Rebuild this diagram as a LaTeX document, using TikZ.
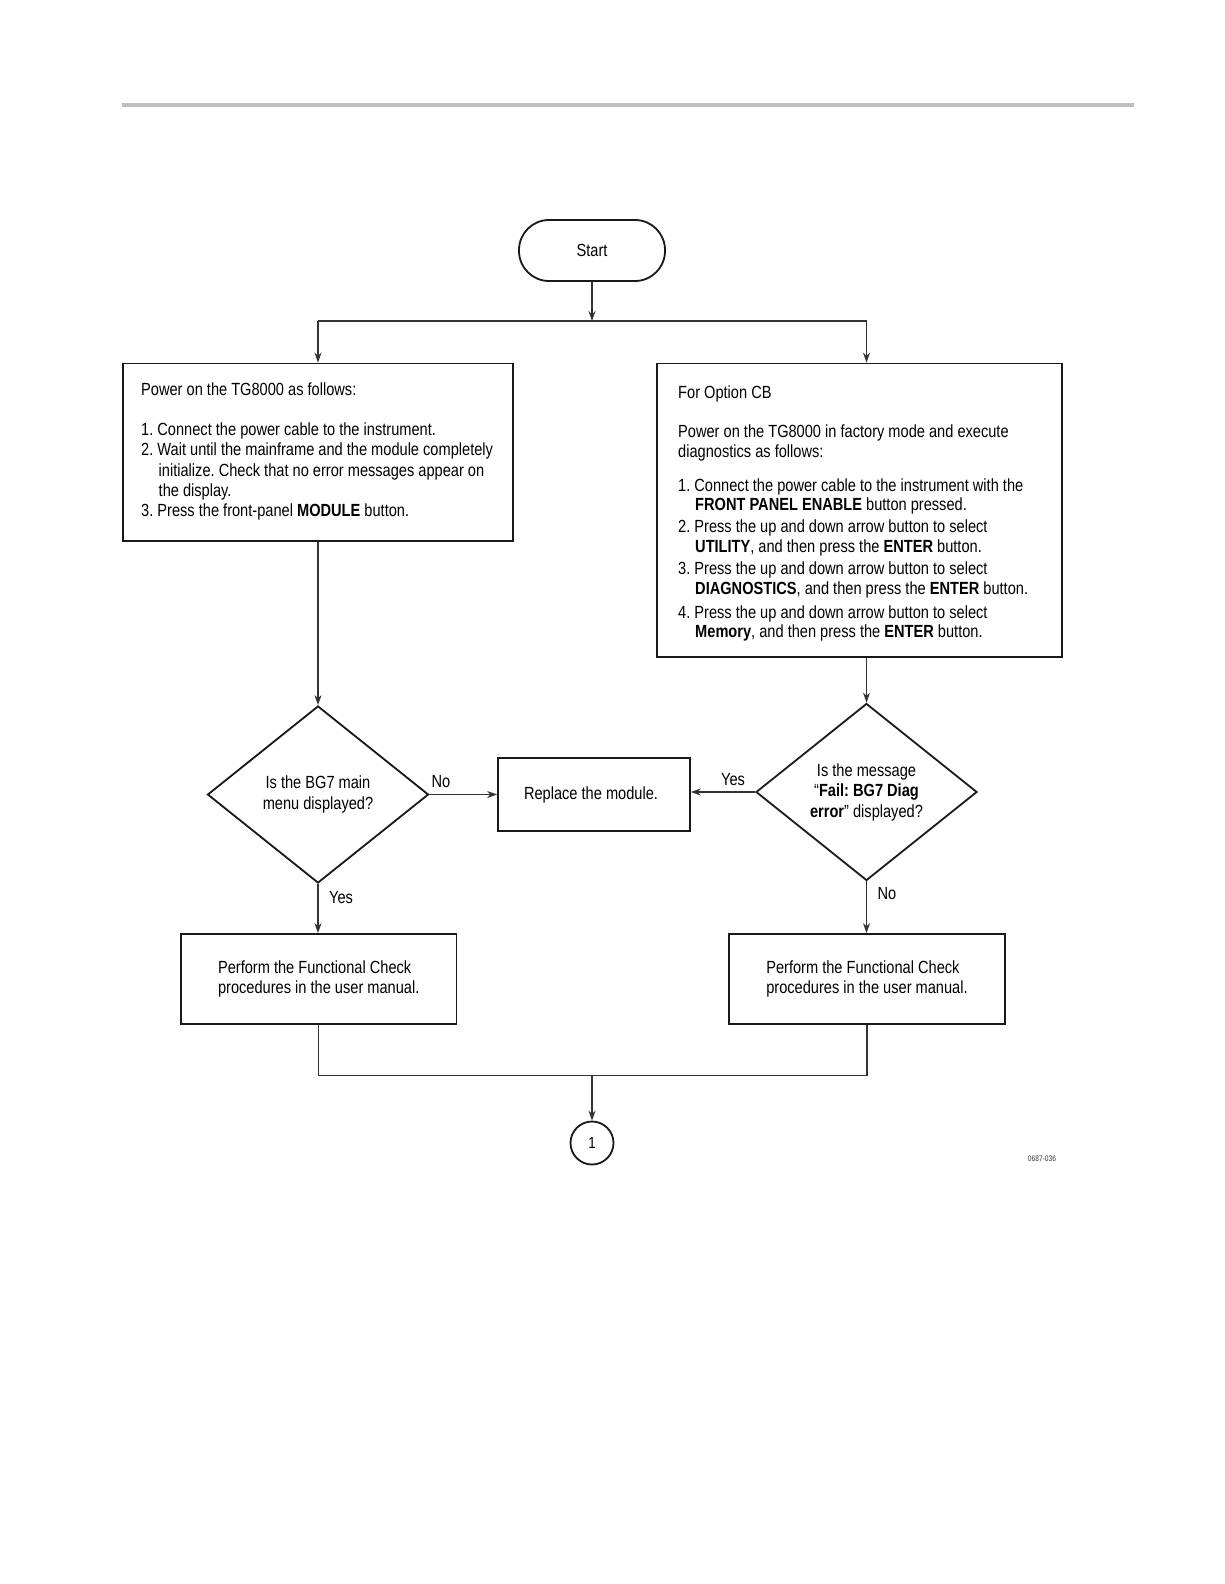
\documentclass[tikz,border=0pt]{standalone}
\usepackage{fontspec}
\setmainfont{Liberation Sans}[FakeStretch=0.83]
\usetikzlibrary{arrows.meta,shapes.geometric}
\frenchspacing
\begin{document}
\frenchspacing
\begin{tikzpicture}[x=1pt,y=-1pt,
  box/.style={draw=black!90,line width=1.8pt,rectangle,inner sep=0pt},
  dia/.style={draw=black!90,line width=1.8pt,diamond,inner sep=0pt,minimum width=221pt,minimum height=177pt,align=center,font=\fontsize{17.6}{20.5}\selectfont},
  conn/.style={draw=black!80,line width=1.3pt},
  arr/.style={conn,-{Stealth[length=10pt,width=7pt]}},
  txt/.style={inner sep=0pt,align=left,font=\fontsize{17.6}{20.2}\selectfont},
  lbl/.style={inner sep=0pt,font=\fontsize{17.6}{20.2}\selectfont}]
\useasboundingbox (0,0) rectangle (1224,1584);
\fill[white] (0,0) rectangle (1224,1584);
\draw[line width=4pt,black!25] (122,105) -- (1134,105);

\node[box,rounded corners=30pt,minimum width=146pt,minimum height=61pt,font=\fontsize{17.6}{20.2}\selectfont] (start) at (592,250.5) {Start};

\node[box,minimum width=390pt,minimum height=177.5pt] (b1) at (318,452.25) {};
\node[txt,anchor=north west] (t1) at (141,382.5) {Power on the TG8000 as follows:\\[20pt]
1. Connect the power cable to the instrument.\\
2. Wait until the mainframe and the module completely\\
\hspace*{17.5pt}initialize. Check that no error messages appear on\\
\hspace*{17.5pt}the display.\\
3. Press the front-panel \textbf{MODULE} button.};

\node[box,minimum width=405pt,minimum height=293.5pt] (b2) at (859.5,510.25) {};
\node[txt,anchor=north west,font=\fontsize{17.6}{19.7}\selectfont] (t2) at (678,386) {For Option CB\\[19pt]
Power on the TG8000 in factory mode and execute\\
diagnostics as follows:\\[14pt]
1. Connect the power cable to the instrument with the\\
\hspace*{17pt}\textbf{FRONT PANEL ENABLE} button pressed.\\[2.5pt]
2. Press the up and down arrow button to select\\
\hspace*{17pt}\textbf{UTILITY}, and then press the \textbf{ENTER} button.\\[2.5pt]
3. Press the up and down arrow button to select\\
\hspace*{17pt}\textbf{DIAGNOSTICS}, and then press the \textbf{ENTER} button.\\[4pt]
4. Press the up and down arrow button to select\\
\hspace*{17pt}\textbf{Memory}, and then press the \textbf{ENTER} button.};

\node[dia] (d1) at (318,794.5) {\raisebox{-2pt}{Is the BG7 main}\\\raisebox{-2pt}{menu displayed?}};
\node[dia] (d2) at (866.5,792) {Is the message\\“\textbf{Fail: BG7 Diag}\\\textbf{error}” displayed?};
\node[box,minimum width=192pt,minimum height=73pt,font=\fontsize{17.6}{20.2}\selectfont] (rep) at (594,794.5) {\hspace*{-6pt}Replace the module.};

\node[box,minimum width=275.5pt,minimum height=90pt,align=left,font=\fontsize{17.6}{20.5}\selectfont] (f1) at (318.75,979) {Perform the Functional Check\\procedures in the user manual.};
\node[box,minimum width=276pt,minimum height=90pt,align=left,font=\fontsize{17.6}{20.5}\selectfont] (f2) at (867,979) {Perform the Functional Check\\procedures in the user manual.};

\node[draw=black!90,line width=1.8pt,circle,minimum size=43pt,inner sep=0pt,font=\fontsize{16}{18}\selectfont] (c1) at (592,1143) {1};
\node[inner sep=0pt,font=\fontsize{8}{9}\selectfont,text=black!80] (fid) at (1042,1159) {0687-036};

\node[lbl] (no1) at (441,782) {No};
\node[lbl] (yes1) at (733,780) {Yes};
\node[lbl] (yes2) at (341,898) {Yes};
\node[lbl] (no2) at (887,894) {No};

\coordinate (sp) at (592,321);
\coordinate (sl) at (318,321);
\coordinate (sr) at (866.5,321);
\coordinate (mj) at (592,1075.5);

\draw[arr] (start) -- (sp);
\draw[conn] (sl) -- (sr);
\draw[arr] (sl) -- (b1.north);
\draw[arr] (sr) -- (sr |- b2.north);
\draw[arr] (b1.south) -- (d1.north);
\draw[arr] (d2.north |- b2.south) -- (d2.north);
\draw[arr] (d1.east) -- (d1.east -| rep.west);
\draw[arr] (d2.west) -- (d2.west -| rep.east);
\draw[arr] (d1.south) -- (d1.south |- f1.north);
\draw[arr] (d2.south) -- (d2.south |- f2.north);
\draw[conn] (f1.south) -- (f1.south |- mj) -- (f2.south |- mj) -- (f2.south);
\draw[arr] (mj) -- (c1.north);
\end{tikzpicture}
\end{document}
